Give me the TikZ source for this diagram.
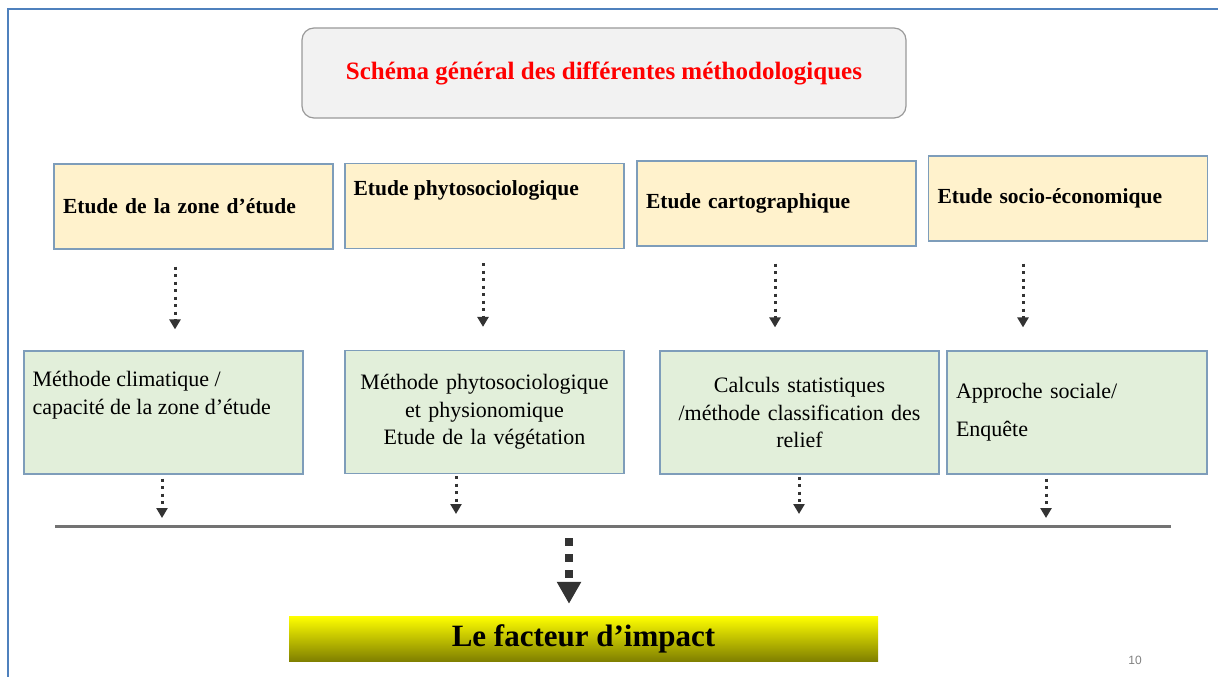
\documentclass[tikz,border=0pt]{standalone}
\usepackage{fontspec}
\setmainfont{Liberation Serif}
\setsansfont{Liberation Sans}
\usepackage{xcolor}
\usepackage{tikz}
\usetikzlibrary{arrows.meta}
\usetikzlibrary{positioning}
\definecolor{cadre}{HTML}{4F81BD}
\definecolor{bordbleu}{HTML}{7E9DBA}
\definecolor{jaunepale}{HTML}{FFF2CC}
\definecolor{vertpale}{HTML}{E2EFDA}
\definecolor{grisclair}{HTML}{F2F2F2}
\tikzset{
  titre/.style = {draw=gray!80, fill=grisclair, rounded corners=12pt, line width=1.2pt,
    minimum width=604, minimum height=90, font=\fontsize{25}{30}\selectfont\bfseries, text=red},
  etude/.style = {draw=bordbleu, fill=jaunepale, line width=1.2pt, inner xsep=9pt,
    text width=261, minimum height=85, align=left, font=\fontsize{21.5}{26}\selectfont\bfseries},% boites jaunes
  methode/.style = {draw=bordbleu, fill=vertpale, line width=1.2pt, inner xsep=9pt,
    text width=261, minimum height=123, align=center, font=\fontsize{22}{27.5}\selectfont},% boites vertes
  lbl/.style = {inner sep=0pt, align=left},
  pointille/.style = {draw=black!80, line width=3pt, dash pattern=on 3pt off 4.5pt,
    -{Triangle[length=10pt,width=11pt]}},
  gros/.style = {draw=black!80, line width=8pt, dash pattern=on 8pt off 8pt,
    -{Triangle[length=22pt,width=23pt]}}
}
\begin{document}
\begin{tikzpicture}[x=1pt,y=-1pt]
\useasboundingbox (0,0) rectangle (1218,677);
\draw[cadre, line width=2.5pt] (8,677) -- (8,9) -- (1218,9);

\node [titre] (titre) at (604,73) {Schéma général des différentes méthodologiques};

\node [etude] (y1) at (193.5,206.5) {Etude de la zone d’étude};
\node [etude] (y2) at (484.5,206) {};
\node [lbl, font=\fontsize{21.5}{26}\selectfont\bfseries, anchor=north west]
  at ([shift={(9,17)}]y2.north west) {Etude phytosociologique};
\node [etude] (y3) at (776.5,203.5) {Etude cartographique};
\node [etude] (y4) at (1068,198.5) {Etude socio-économique};

\node [methode] (g1) at (163.5,412.5) {};
\node [lbl, font=\fontsize{22}{28}\selectfont, anchor=north west]
  at ([shift={(9,21)}]g1.north west) {Méthode climatique /\\capacité de la zone d’étude};
\node [methode] (g2) at (484.5,412) {Méthode phytosociologique\\et physionomique\\Etude de la végétation};
\node [methode] (g3) at (799.5,412.5) {Calculs statistiques\\/méthode classification des\\relief};
\node [methode, text width=242, align=left, font=\fontsize{22}{38}\selectfont] (g4) at (1077,412.5) {Approche sociale/\\Enquête};

\draw[pointille, shorten <=17pt, shorten >=21pt] ([xshift=-18.5]y1.south) -- ([xshift=-18.5]y1.south |- g1.north);
\draw[pointille, shorten <=14pt, shorten >=23pt] ([xshift=-1.5]y2.south) -- ([xshift=-1.5]y2.south |- g2.north);
\draw[pointille, shorten <=17pt, shorten >=23pt] ([xshift=-1.5]y3.south) -- ([xshift=-1.5]y3.south |- g3.north);
\draw[pointille, shorten <=22pt, shorten >=23pt] ([xshift=-45]y4.south) -- ([xshift=-45]y4.south |- g4.north);

% ligne de rassemblement
\coordinate (l1) at (55,526);
\coordinate (l2) at (1171,526);
\draw[black!55, line width=3pt] (l1) -- (l2);

\draw[pointille, shorten <=4pt, shorten >=8pt] ([xshift=-1.5]g1.south) -- ([xshift=-1.5]g1.south |- l1);
\draw[pointille, shorten <=2pt, shorten >=12pt] ([xshift=-28.5]g2.south) -- ([xshift=-28.5]g2.south |- l1);
\draw[pointille, shorten <=2pt, shorten >=12pt] ([xshift=-0.5]g3.south) -- ([xshift=-0.5]g3.south |- l1);
\draw[pointille, shorten <=4pt, shorten >=8pt] ([xshift=-31]g4.south) -- ([xshift=-31]g4.south |- l1);

\node [minimum width=589, minimum height=45, inner sep=0pt,
  top color=yellow, bottom color={rgb,255:red,128;green,128;blue,0},
  font=\fontsize{31}{36}\selectfont\bfseries] (facteur) at (583.5,638.5) {Le facteur d’impact};
\coordinate (m) at (569,526);
\draw[gros, shorten <=12pt, shorten >=12pt] (m) -- (m |- facteur.north);

\node [font=\sffamily\fontsize{12}{14}\selectfont, text=gray] (num) at (1135,660) {10};
\end{tikzpicture}
\end{document}
